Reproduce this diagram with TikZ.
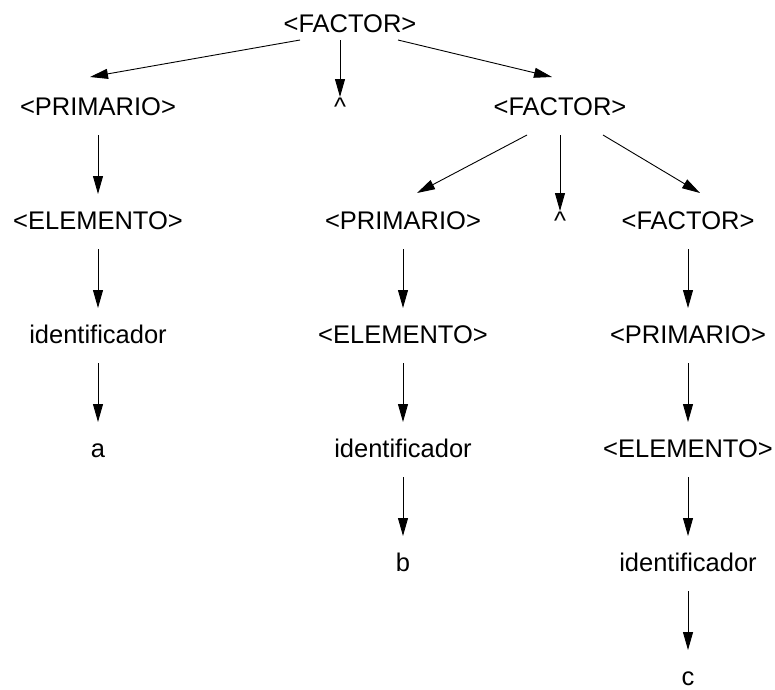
\documentclass[tikz,border=0pt]{standalone}
\usepackage{fontspec}
\setmainfont{Liberation Sans}
\usetikzlibrary{arrows.meta,calc}

\tikzset{
  sym/.style={anchor=base, inner sep=0pt, font=\fontsize{25.5pt}{30pt}\selectfont},
  edge/.style={draw=black, line width=0.9pt, -{Triangle[length=18pt,width=10pt]}},
}

\begin{document}
\begin{tikzpicture}[x=1pt, y=-1pt]
\useasboundingbox (0,0) rectangle (775,689);

% row 0
\node[sym] (f0) at (350,32) {<FACTOR>};
% row 1
\node[sym] (p1) at (98,115)  {<PRIMARIO>};
\node[sym] (c1) at (340,115) {\textasciicircum};
\node[sym] (f1) at (560,115) {<FACTOR>};
% row 2
\node[sym] (e1) at (98,229)  {<ELEMENTO>};
\node[sym] (p2) at (403,229) {<PRIMARIO>};
\node[sym] (c2) at (560,229) {\textasciicircum};
\node[sym] (f2) at (688,229) {<FACTOR>};
% row 3
\node[sym] (i1) at (98,343)  {identificador};
\node[sym] (e2) at (403,343) {<ELEMENTO>};
\node[sym] (p3) at (688,343) {<PRIMARIO>};
% row 4
\node[sym] (la) at (98,457)  {a};
\node[sym] (i2) at (403,457) {identificador};
\node[sym] (e3) at (688,457) {<ELEMENTO>};
% row 5
\node[sym] (lb) at (403,571) {b};
\node[sym] (i3) at (688,571) {identificador};
% row 6
\node[sym] (lc) at (688,685) {c};

% top-level branches
\draw[edge] ($(f0.base)+(-50,8)$) -- ($(p1.base)+(-8,-38)$);
\draw[edge] ($(f0.base)+(-10,8)$) -- ($(c1.base)+(0,-18)$);
\draw[edge] ($(f0.base)+(48,8)$)  -- ($(f1.base)+(-8,-38)$);

% second FACTOR branches
\draw[edge] ($(f1.base)+(-33,20)$) -- ($(p2.base)+(14,-36)$);
\draw[edge] ($(f1.base)+(0,20)$)   -- ($(c2.base)+(0,-18)$);
\draw[edge] ($(f1.base)+(43,20)$)  -- ($(f2.base)+(12,-36)$);

% vertical chains
\foreach \u/\v in {p1/e1, e1/i1, i1/la,
                   p2/e2, e2/i2, i2/lb,
                   f2/p3, p3/e3, e3/i3, i3/lc}
  \draw[edge] ($(\u.base)+(0,20)$) -- ($(\v.base)+(0,-35)$);
\end{tikzpicture}
\end{document}
